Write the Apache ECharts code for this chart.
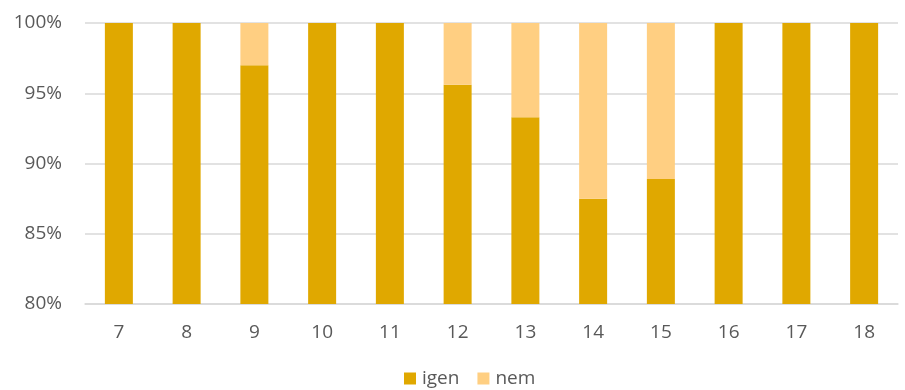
<!DOCTYPE html>
<html>
<head>
<meta charset="utf-8">
<script src="https://cdn.jsdelivr.net/npm/echarts@6/dist/echarts.min.js"></script>
<style>
  html, body { margin: 0; padding: 0; background: #fff; }
  #chart { width: 905px; height: 390px; }
</style>
</head>
<body>
<div id="chart"></div>
<script>
// Share of answers per grade (percent)
const categories = ['7', '8', '9', '10', '11', '12', '13', '14', '15', '16', '17', '18'];
const igen = [100, 100, 97.0, 100, 100, 95.6, 93.3, 87.5, 88.9, 100, 100, 100];
const nem = [0, 0, 3.0, 0, 0, 4.4, 6.7, 12.5, 11.1, 0, 0, 0];
const yTicks = { min: 80, max: 100, interval: 5 };

const font = 'Open Sans, Liberation Sans, sans-serif';
const chart = echarts.init(document.getElementById('chart'), null, { renderer: 'canvas' });

chart.setOption({
  animation: false,
  grid: { left: 85, right: 7, top: 23, bottom: 86, containLabel: false },
  legend: {
    top: 369,
    left: 404,
    padding: 0,
    itemWidth: 12,
    itemHeight: 12,
    itemGap: 18,
    icon: 'rect',
    textStyle: { color: '#595959', fontSize: 19, fontFamily: font, padding: [0, 0, 0, 1] },
    data: ['igen', 'nem']
  },
  xAxis: {
    type: 'category',
    data: categories,
    axisLine: { show: true, lineStyle: { color: '#d9d9d9', width: 1.5 } },
    axisTick: { show: false },
    axisLabel: { color: '#595959', fontSize: 19, fontFamily: font, margin: 19 }
  },
  yAxis: {
    type: 'value',
    min: yTicks.min,
    max: yTicks.max,
    interval: yTicks.interval,
    axisLine: { show: false },
    axisTick: { show: false },
    splitLine: { lineStyle: { color: '#d9d9d9', width: 1.5 } },
    axisLabel: {
      color: '#595959', fontSize: 19, fontFamily: font, margin: 23,
      formatter: v => v + '%'
    }
  },
  series: [
    {
      name: 'igen', type: 'bar', stack: 'total', data: igen,
      barWidth: 28,
      itemStyle: { color: '#E0A800' }
    },
    {
      name: 'nem', type: 'bar', stack: 'total', data: nem,
      barWidth: 28,
      itemStyle: { color: '#FFCF82' }
    }
  ]
});
</script>
</body>
</html>
